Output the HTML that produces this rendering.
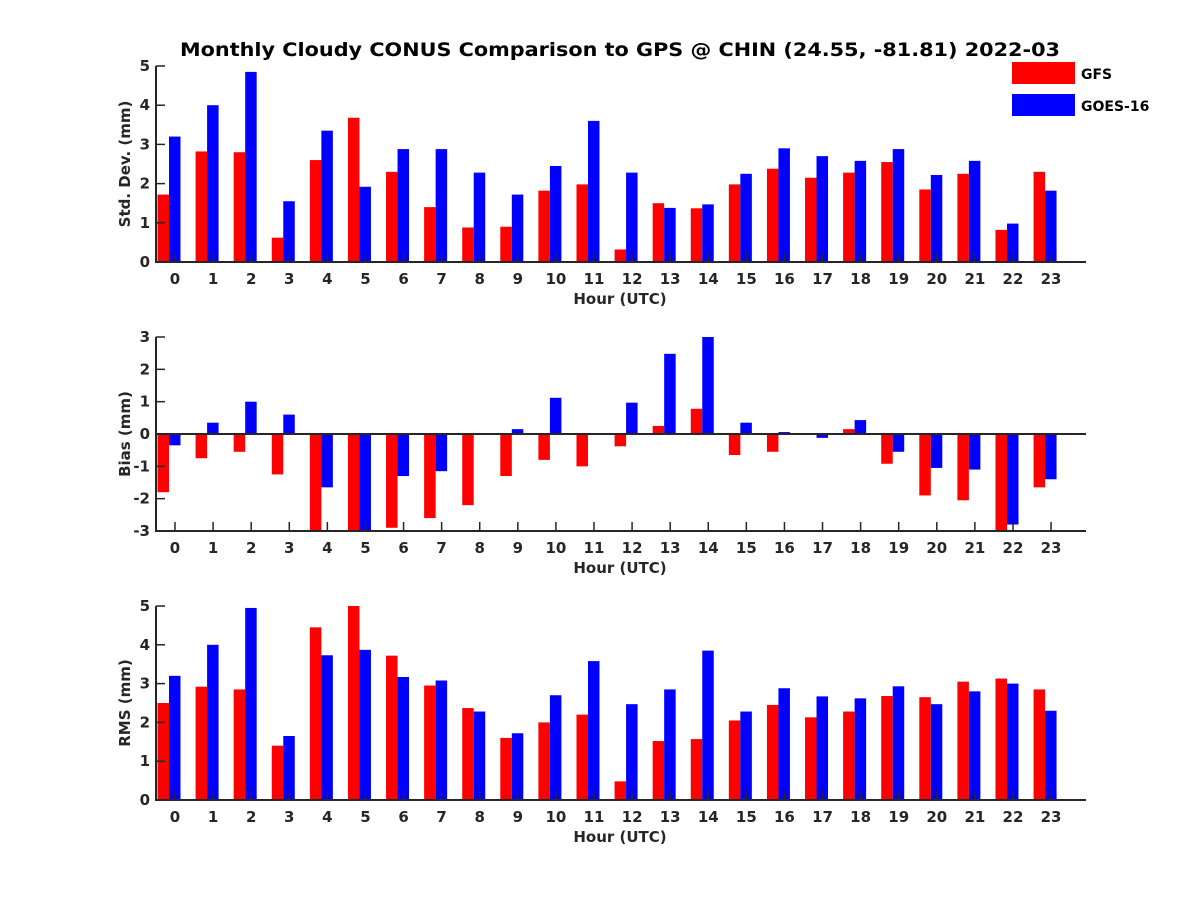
<!DOCTYPE html>
<html><head><meta charset="utf-8"><style>
body{margin:0;background:#fff}
text{font-family:"DejaVu Sans","Liberation Sans",sans-serif;font-weight:bold;fill:#262626}
</style></head><body>
<svg id="chart" width="1200" height="900" xmlns="http://www.w3.org/2000/svg">
<text x="620" y="56" text-anchor="middle" font-size="19" textLength="880" lengthAdjust="spacingAndGlyphs" style="fill:#000">Monthly Cloudy CONUS Comparison to GPS @ CHIN (24.55, -81.81) 2022-03</text>
<g>
<rect x="1012" y="62" width="63" height="22" fill="#ff0000"/>
<text x="1081" y="79" font-size="14" style="fill:#000">GFS</text>
<rect x="1012" y="94" width="63" height="22" fill="#0000ff"/>
<text x="1081" y="111" font-size="14" style="fill:#000">GOES-16</text>
</g>
</svg>
<script>
const hours=[0,1,2,3,4,5,6,7,8,9,10,11,12,13,14,15,16,17,18,19,20,21,22,23];
const stdGFS=[1.72,2.82,2.8,0.62,2.6,3.68,2.3,1.4,0.88,0.9,1.82,1.98,0.32,1.5,1.37,1.98,2.38,2.15,2.28,2.55,1.85,2.25,0.82,2.3];
const stdGOES=[3.2,4.0,4.85,1.55,3.35,1.92,2.88,2.88,2.28,1.72,2.45,3.6,2.28,1.38,1.47,2.25,2.9,2.7,2.58,2.88,2.22,2.58,0.98,1.82];
const biasGFS=[-1.8,-0.75,-0.55,-1.25,-3.2,-3.2,-2.9,-2.6,-2.2,-1.3,-0.8,-1.0,-0.38,0.25,0.78,-0.65,-0.55,-0.03,0.15,-0.92,-1.9,-2.05,-3.2,-1.65];
const biasGOES=[-0.35,0.35,1.0,0.6,-1.65,-3.2,-1.3,-1.15,0,0.15,1.12,0.03,0.97,2.48,3.0,0.35,0.06,-0.12,0.43,-0.55,-1.05,-1.1,-2.8,-1.4];
const rmsGFS=[2.5,2.92,2.85,1.4,4.45,5.0,3.72,2.95,2.37,1.6,2.0,2.2,0.48,1.52,1.57,2.05,2.45,2.13,2.28,2.68,2.65,3.05,3.13,2.85];
const rmsGOES=[3.2,4.0,4.95,1.65,3.73,3.87,3.17,3.08,2.28,1.72,2.7,3.58,2.47,2.85,3.85,2.28,2.88,2.67,2.62,2.93,2.47,2.8,3.0,2.3];
const stdTicks=[0,1,2,3,4,5];
const biasTicks=[-3,-2,-1,0,1,2,3];
const rmsTicks=[0,1,2,3,4,5];

const svg=document.getElementById('chart');
const NS='http://www.w3.org/2000/svg';
function mk(tag,attrs,parent){const e=document.createElementNS(NS,tag);for(const k in attrs)e.setAttribute(k,attrs[k]);(parent||svg).appendChild(e);return e;}
const X0=156,X1=1086;
function xScale(h){return 175+h*38.09;}
function panel(name,label,ticks,ymin,ymax,yTop,yBot,gfs,goes){
  const g=mk('g',{});
  
  
  const ys=v=>yBot-(v-ymin)/(ymax-ymin)*(yBot-yTop);
  const clip=v=>Math.max(ymin,Math.min(ymax,v));
  const base=ys(Math.max(ymin,0));
  hours.forEach((h,i)=>{
    const c=xScale(h)-6;
    [[gfs[i],'#ff0000',c-11.5,'gfs'],[goes[i],'#0000ff',c,'goes']].forEach(([v,col,x,s])=>{
      const y=ys(clip(v));
      const r=mk('rect',{x:x,y:Math.min(y,base),width:11.5,height:Math.abs(y-base),fill:col},g);
      
      
    });
  });
  const ax=mk('path',{d:`M${X0},${yTop}V${yBot}H${X1}`,stroke:'#262626','stroke-width':2,fill:'none'},g);
  
  
  if(ymin<0){const z=mk('line',{x1:X0,x2:X1,y1:ys(0),y2:ys(0),stroke:'#262626','stroke-width':2},g);
    }
  ticks.forEach(t=>{
    const y=ys(t);
    mk('line',{x1:X0,x2:X0+9,y1:y,y2:y,stroke:'#262626','stroke-width':1.5},g);
    const tx=mk('text',{x:X0-6,y:y+5,'text-anchor':'end','font-size':15},g);
    tx.textContent=t;
    
    
  });
  hours.forEach(h=>{
    const x=xScale(h);
    mk('line',{x1:x,x2:x,y1:yBot,y2:yBot-9,stroke:'#262626','stroke-width':1.5},g);
    const tx=mk('text',{x:x,y:yBot+22,'text-anchor':'middle','font-size':15},g);
    tx.textContent=h;
    
    
  });
  const xl=mk('text',{x:620,y:yBot+42,'text-anchor':'middle','font-size':15},g);
  xl.textContent='Hour (UTC)';
  
  
  const yc=(yTop+yBot)/2;
  const yl=mk('text',{x:130,y:yc,'text-anchor':'middle','font-size':15,transform:`rotate(-90 130 ${yc})`},g);
  yl.textContent=label;
  
  
}
panel('std','Std. Dev. (mm)',stdTicks,0,5,66,262,stdGFS,stdGOES);
panel('bias','Bias (mm)',biasTicks,-3,3,337,531,biasGFS,biasGOES);
panel('rms','RMS (mm)',rmsTicks,0,5,606,800,rmsGFS,rmsGOES);
</script>
</body></html>
